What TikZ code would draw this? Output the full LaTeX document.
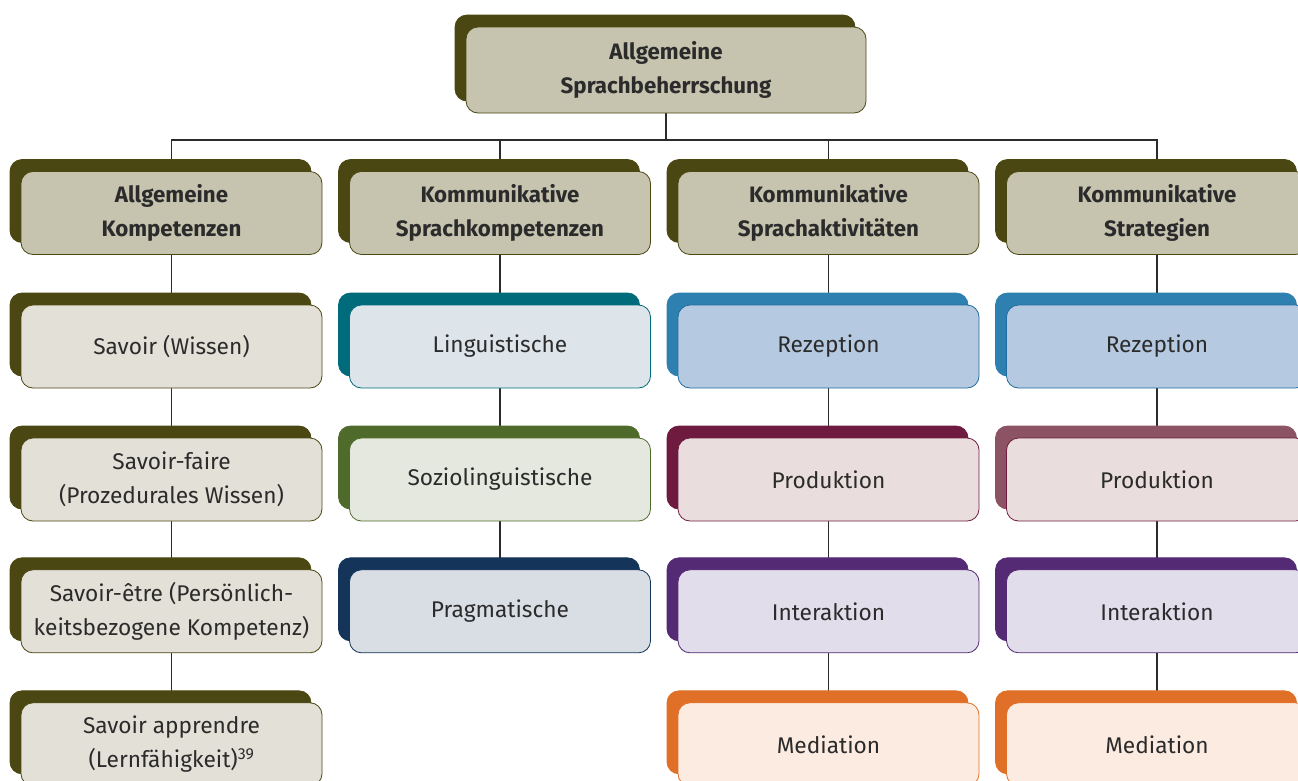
\documentclass[tikz,border=0pt]{standalone}
\usepackage{fontspec}
\setmainfont{Fira Sans}
\usetikzlibrary{shadows,backgrounds}
\definecolor{txt}{HTML}{2B2B2B}
\definecolor{olive}{HTML}{4B4713}
\definecolor{hfill}{HTML}{C6C3AF}
\definecolor{ofill}{HTML}{E3E0D7}
\definecolor{teal}{HTML}{006B7A}
\definecolor{tfill}{HTML}{DEE5EA}
\definecolor{grn}{HTML}{4F6B2B}
\definecolor{gfill}{HTML}{E5E8DE}
\definecolor{navy}{HTML}{143459}
\definecolor{nfill}{HTML}{D9DEE5}
\definecolor{blu}{HTML}{2E80B1}
\definecolor{bludraw}{HTML}{1E6A9E}
\definecolor{bfill}{HTML}{B5CAE1}
\definecolor{wine}{HTML}{6F1B40}
\definecolor{winelt}{HTML}{8C5364}
\definecolor{wfill}{HTML}{E9DDDD}
\definecolor{purp}{HTML}{532A73}
\definecolor{pfill}{HTML}{E1DDEA}
\definecolor{orng}{HTML}{E07028}
\definecolor{ofl}{HTML}{FCEBE0}
\tikzset{
  box/.style 2 args={draw=#1, fill=#2, line width=0.8pt, rounded corners=12pt,
    minimum width=301pt, minimum height=83pt, inner sep=0pt, align=center,
    text=txt, font=\fontsize{22.7}{33.5}\selectfont,
    copy shadow={shadow xshift=-11pt, shadow yshift=12pt, fill=#1, draw=#1}},
  head/.style={font=\fontsize{22.3}{33.5}\selectfont\bfseries},
  conn/.style={draw=txt, line width=1.8pt},
}
\begin{document}
\begin{tikzpicture}[x=1pt,y=-1pt]
\useasboundingbox (0,0) rectangle (1298,780);
\clip (0,0) rectangle (1298,780);
% top
\node[box={olive}{hfill}, head, minimum width=400pt, minimum height=86pt] (top) at (666,70) {Allgemeine\\Sprachbeherrschung};
% headers
\node[box={olive}{hfill}, head] (h1) at (171.5,213) {Allgemeine\\Kompetenzen};
\node[box={olive}{hfill}, head] (h2) at (500,213) {Kommunikative\\Sprachkompetenzen};
\node[box={olive}{hfill}, head] (h3) at (828.5,213) {Kommunikative\\Sprachaktivitäten};
\node[box={olive}{hfill}, head] (h4) at (1157,213) {Kommunikative\\Strategien};
% column 1
\node[box={olive}{ofill}] (a1) at (171.5,346.5) {Savoir (Wissen)};
\node[box={olive}{ofill}] (a2) at (171.5,479.5) {Savoir-faire\\(Prozedurales Wissen)};
\node[box={olive}{ofill}] (a3) at (171.5,611.3) {Savoir-être (Persönlich-\\keitsbezogene Kompetenz)};
\node[box={olive}{ofill}] (a4) at (171.5,744.3) {Savoir apprendre\\(Lernfähigkeit)\textsuperscript{39}};
% column 2
\node[box={teal}{tfill}] (b1) at (500,346.5) {Linguistische};
\node[box={grn}{gfill}] (b2) at (500,479.5) {Soziolinguistische};
\node[box={navy}{nfill}] (b3) at (500,611.3) {Pragmatische};
% column 3
\node[box={blu}{bfill}, draw=bludraw] (c1) at (828.5,346.5) {Rezeption};
\node[box={wine}{wfill}] (c2) at (828.5,479.5) {Produktion};
\node[box={purp}{pfill}] (c3) at (828.5,611.3) {Interaktion};
\node[box={orng}{ofl}] (c4) at (828.5,744.3) {Mediation};
% column 4
\node[box={blu}{bfill}, draw=bludraw] (d1) at (1157,346.5) {Rezeption};
\node[box={winelt}{wfill}, draw=wine] (d2) at (1157,479.5) {Produktion};
\node[box={purp}{pfill}] (d3) at (1157,611.3) {Interaktion};
\node[box={orng}{ofl}] (d4) at (1157,744.3) {Mediation};
\coordinate (bus) at (top.south |- 0,140);
\begin{scope}[on background layer]
\draw[conn] (top.south) -- (bus);
\draw[conn] (h1.north) |- (bus);
\draw[conn] (h2.north) |- (bus);
\draw[conn] (h3.north) |- (bus);
\draw[conn] (h4.north) |- (bus);
\draw[conn] (h1) -- (a1) -- (a2) -- (a3) -- (a4);
\draw[conn] (h2) -- (b1) -- (b2) -- (b3);
\draw[conn] (h3) -- (c1) -- (c2) -- (c3) -- (c4);
\draw[conn] (h4) -- (d1) -- (d2) -- (d3) -- (d4);
\end{scope}
\end{tikzpicture}
\end{document}
